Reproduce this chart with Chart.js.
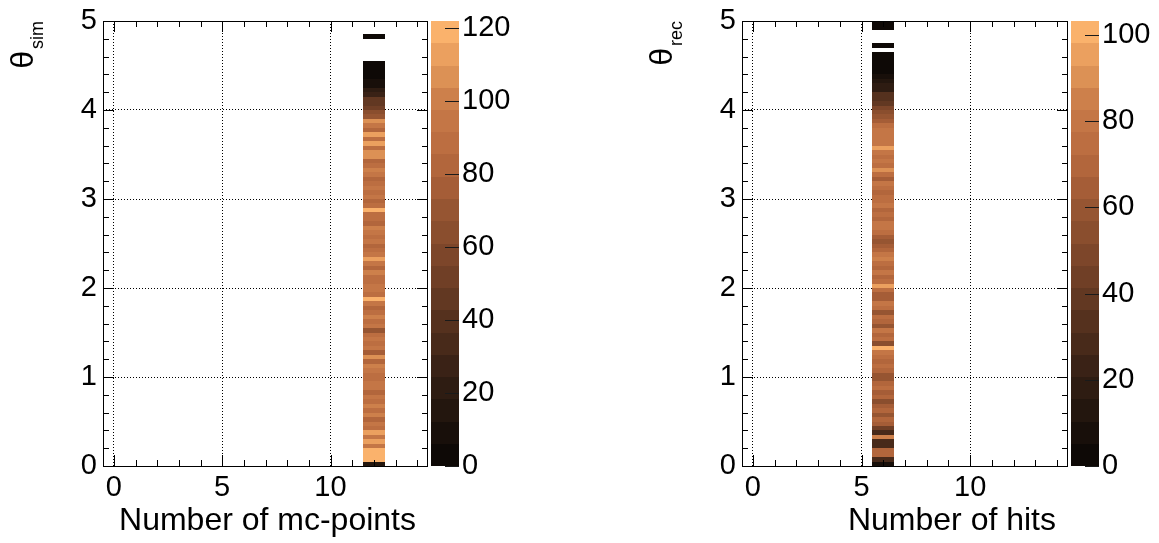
<!DOCTYPE html>
<html>
<head>
<meta charset="utf-8">
<script src="https://cdn.jsdelivr.net/npm/chart.js@4.4.1/dist/chart.umd.min.js"></script>
<style>
html,body{margin:0;padding:0;background:#fff;width:1159px;height:543px;overflow:hidden}
canvas{position:absolute;top:0;display:block}
#c1{left:0}
#c2{left:580px}
</style>
</head>
<body>
<canvas id="c1" width="580" height="543"></canvas>
<canvas id="c2" width="579" height="543"></canvas>
<script>
// ---------------- DATA ----------------
// theta axis binning (both panels): 100 bins from 0 to 5
const thetaMin = 0, thetaMax = 5, thetaBins = 100;

// left panel: all entries fall in the bin "Number of mc-points" = 12
const simXBin = 12;
const simCounts = [
  14,121,120,118, 92,110, 95,112, 88, 96,
  85, 98, 90,100, 88, 94, 80, 92, 97, 90,
  86, 93, 99, 84,108, 78, 92, 88, 96, 90,
  72, 94, 87, 98, 90, 85, 95,118, 88, 92,
  96, 86, 90,100, 84, 93,110, 94, 90, 82,
  97, 89, 93, 99, 85, 91, 87,118, 90, 80,
  94, 88, 96, 90, 84, 92, 98, 86, 80,108,
 108, 88,110, 90,112, 84, 92,104, 70, 66,
  50, 46, 44, 26, 24, 10,  8,  4,  3,  3,
   3,  0,  0,  0,  0,  0,  1,  0,  0,  0
];
const simZMax = 122;
const simPaletteTicks = [0, 20, 40, 60, 80, 100, 120];

// right panel: all entries fall in the bin "Number of hits" = 6
const recXBin = 6;
const recCounts = [
   8, 26, 70, 72, 30, 28, 86, 30, 44, 62,
  70, 60, 72, 66, 54, 70, 64, 74, 68, 58,
  60, 72, 76, 68, 74, 78,100, 56, 74, 70,
  78, 60, 72, 76, 60, 74, 78, 62, 66, 74,
  94, 76, 70, 80, 72, 76, 86, 80, 72, 64,
  60, 66, 74, 78, 82, 72, 76, 70, 78, 74,
  76, 70, 74, 78, 64, 74, 92, 76, 80, 74,
  78, 95, 78, 80, 82, 78, 76, 66, 58, 54,
  50, 40, 36, 32, 20, 16, 12, 10,  5,  4,
   4,  3,  3,  0,  1,  0,  0,  0,  2,  2
];
const recZMax = 103.2;
const recPaletteTicks = [0, 20, 40, 60, 80, 100];

// axes
const xRange = [-0.5, 14.5];
const xTickPositions = [0,1,2,3,4,5,6,7,8,9,10,11,12,13,14];
const xTickLabels = [0, 5, 10];
const yRange = [0, 5];
const yTickPositions = [0,0.2,0.4,0.6,0.8,1,1.2,1.4,1.6,1.8,2,2.2,2.4,2.6,2.8,3,3.2,3.4,3.6,3.8,4,4.2,4.4,4.6,4.8,5];
const yTickLabels = [0, 1, 2, 3, 4, 5];

// ---------------- STYLE ----------------
const FONT = "'Liberation Sans', Arial, Helvetica, sans-serif";
const paletteLevels = [
  [14,9,6],[24,15,10],[35,22,14],[46,28,18],[58,34,22],
  [72,42,26],[85,49,30],[98,56,34],[112,63,38],[125,70,42],
  [138,78,46],[150,85,50],[165,93,55],[178,102,60],[188,110,65],
  [196,118,70],[205,128,75],[220,145,85],[235,160,95],[250,178,108]
];
function levelColor(v, zmax) {
  let k = Math.floor(v / zmax * paletteLevels.length);
  k = Math.max(0, Math.min(paletteLevels.length - 1, k));
  const c = paletteLevels[k];
  return `rgb(${c[0]},${c[1]},${c[2]})`;
}

const heatPlugin = {
  id: 'heat',
  afterDatasetsDraw(chart) {
    const o = chart.options.plugins.heat;
    const {ctx, chartArea: a} = chart;
    const xs = chart.scales.x, ys = chart.scales.y;
    ctx.save();
    ctx.beginPath();
    ctx.rect(a.left, a.top, a.right - a.left, a.bottom - a.top);
    ctx.clip();
    chart.data.datasets[0].data.forEach(p => {
      const x0 = Math.round(xs.getPixelForValue(p.x - 0.5));
      const x1 = Math.round(xs.getPixelForValue(p.x + 0.5));
      const y0 = Math.round(ys.getPixelForValue(p.lo));
      const y1 = Math.round(ys.getPixelForValue(p.hi));
      ctx.fillStyle = levelColor(p.v, o.zmax);
      ctx.fillRect(x0, y1, x1 - x0, y0 - y1);
    });
    ctx.restore();
  },
  afterDraw(chart) {
    const o = chart.options.plugins.heat;
    const {ctx, chartArea: a} = chart;
    const xs = chart.scales.x, ys = chart.scales.y, zs = chart.scales.z;
    ctx.save();
    // frame
    ctx.strokeStyle = '#000';
    ctx.lineWidth = 1;
    ctx.strokeRect(a.left + 0.5, a.top + 0.5, a.right - a.left - 1, a.bottom - a.top);
    // inward ticks
    ctx.beginPath();
    xs.ticks.forEach(t => {
      const px = Math.round(xs.getPixelForValue(t.value)) + 0.5;
      const len = xTickLabels.includes(t.value) ? 11 : 6;
      ctx.moveTo(px, a.bottom); ctx.lineTo(px, a.bottom - len);
      ctx.moveTo(px, a.top); ctx.lineTo(px, a.top + len);
    });
    ys.ticks.forEach(t => {
      const py = Math.round(ys.getPixelForValue(t.value)) + 0.5;
      const len = yTickLabels.includes(t.value) ? 11 : 6;
      ctx.moveTo(a.left, py); ctx.lineTo(a.left + len, py);
      ctx.moveTo(a.right, py); ctx.lineTo(a.right - len, py);
    });
    ctx.stroke();
    // colour bar
    const bx0 = a.right + 3, bw = 28;
    const n = paletteLevels.length;
    for (let k = 0; k < n; k++) {
      const yb = Math.round(zs.getPixelForValue(k * o.zmax / n));
      const yt = Math.round(zs.getPixelForValue((k + 1) * o.zmax / n));
      const c = paletteLevels[k];
      ctx.fillStyle = `rgb(${c[0]},${c[1]},${c[2]})`;
      ctx.fillRect(bx0, yt, bw, yb - yt);
    }
    ctx.strokeStyle = '#1a1a1a';
    ctx.beginPath();
    zs.ticks.forEach(t => {
      const py = Math.round(zs.getPixelForValue(t.value)) + 0.5;
      ctx.moveTo(bx0 + bw - 14, py); ctx.lineTo(bx0 + bw, py);
    });
    ctx.stroke();
    // y title (theta with subscript), rotated
    ctx.fillStyle = '#000';
    ctx.translate(a.left - 70, a.top);
    ctx.rotate(-Math.PI / 2);
    ctx.font = `32px ${FONT}`;
    const wt = ctx.measureText('θ').width;
    ctx.font = `18px ${FONT}`;
    const ws = ctx.measureText(o.ySub).width;
    ctx.textBaseline = 'alphabetic';
    ctx.textAlign = 'left';
    ctx.font = `32px ${FONT}`;
    ctx.fillText('θ', -(wt + ws + 2), 0);
    ctx.font = `18px ${FONT}`;
    ctx.fillText(o.ySub, -ws, 10);
    ctx.restore();
    // x title
    ctx.save();
    ctx.fillStyle = '#000';
    ctx.font = `32px ${FONT}`;
    ctx.textAlign = 'right';
    ctx.textBaseline = 'alphabetic';
    ctx.fillText(o.xTitle, a.right - 12, 530);
    ctx.restore();
  }
};

function makeChart(id, p) {
  const w = (thetaMax - thetaMin) / thetaBins;
  const points = [];
  p.counts.forEach((c, i) => {
    if (c > 0) points.push({x: p.xBin, y: thetaMin + (i + 0.5) * w, lo: thetaMin + i * w, hi: thetaMin + (i + 1) * w, v: c});
  });
  const tickFont = {family: FONT, size: 29};
  return new Chart(document.getElementById(id), {
    type: 'scatter',
    data: {datasets: [{data: points, pointRadius: 0, pointHoverRadius: 0}]},
    plugins: [heatPlugin],
    options: {
      responsive: false,
      animation: false,
      events: [],
      layout: {padding: {top: 21, left: 0, right: 0, bottom: 0}},
      plugins: {
        legend: {display: false},
        tooltip: {enabled: false},
        heat: {zmax: p.zmax, ySub: p.ySub, xTitle: p.xTitle}
      },
      scales: {
        x: {
          type: 'linear', position: 'bottom', min: xRange[0], max: xRange[1], z: 1,
          afterBuildTicks: s => { s.ticks = xTickPositions.map(v => ({value: v})); },
          afterFit: s => { s.height = 77; },
          ticks: {callback: v => xTickLabels.includes(v) ? String(v) : '', autoSkip: false, maxRotation: 0, font: tickFont, color: '#000', padding: 0},
          grid: {drawTicks: true, tickLength: 5, tickColor: 'rgba(0,0,0,0)', color: '#000', lineWidth: c => (c.tick && xTickLabels.includes(c.tick.value)) ? 1 : 0},
          border: {display: false, dash: [1, 2]}
        },
        y: {
          type: 'linear', position: 'left', min: yRange[0], max: yRange[1], z: 1,
          afterBuildTicks: s => { s.ticks = yTickPositions.map(v => ({value: v})); },
          afterFit: s => { s.width = p.leftW; },
          ticks: {callback: v => yTickLabels.includes(v) ? String(v) : '', autoSkip: false, font: tickFont, color: '#000', padding: 0},
          grid: {drawTicks: true, tickLength: 6, tickColor: 'rgba(0,0,0,0)', color: '#000', lineWidth: c => (c.tick && yTickLabels.includes(c.tick.value) && c.tick.value !== 0 && c.tick.value !== 5) ? 1 : 0},
          border: {display: false, dash: [1, 2]}
        },
        z: {
          type: 'linear', position: 'right', min: 0, max: p.zmax,
          afterBuildTicks: s => { s.ticks = p.paletteTicks.map(v => ({value: v})); },
          afterFit: s => { s.width = p.rightW; },
          ticks: {font: tickFont, color: '#000', padding: 0},
          grid: {drawOnChartArea: false, drawTicks: true, tickLength: 34, tickColor: 'rgba(0,0,0,0)'},
          border: {display: false}
        }
      }
    }
  });
}

makeChart('c1', {counts: simCounts, xBin: simXBin, zmax: simZMax, paletteTicks: simPaletteTicks, ySub: 'sim', xTitle: 'Number of mc-points', leftW: 103, rightW: 152});
makeChart('c2', {counts: recCounts, xBin: recXBin, zmax: recZMax, paletteTicks: recPaletteTicks, ySub: 'rec', xTitle: 'Number of hits', leftW: 162, rightW: 91});
</script>
</body>
</html>
